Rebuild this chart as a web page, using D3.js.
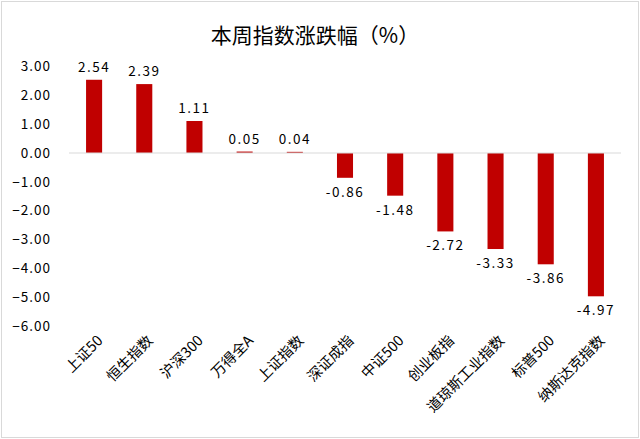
<!DOCTYPE html>
<html>
<head>
<meta charset="utf-8">
<script src="https://cdn.jsdelivr.net/npm/d3@7"></script>
<style>
  body { margin: 0; background: #fff; }
  svg text { font-family: "Noto Sans CJK SC", "Noto Sans", sans-serif; fill: #000; }
</style>
</head>
<body>
<div id="chart"></div>
<script>
const categories = ['上证50', '恒生指数', '沪深300', '万得全A', '上证指数', '深证成指',
  '中证500', '创业板指', '道琼斯工业指数', '标普500', '纳斯达克指数'];
const values = [2.54, 2.39, 1.11, 0.05, 0.04, -0.86, -1.48, -2.72, -3.33, -3.86, -4.97];
const yTicks = [3, 2, 1, 0, -1, -2, -3, -4, -5, -6];

const width = 640;
const height = 439;

const svg = d3.select('#chart')
  .append('svg')
  .attr('width', width)
  .attr('height', height);

// outer frame
svg.append('rect')
  .attr('x', 1.5).attr('y', 1.5)
  .attr('width', width - 3).attr('height', height - 3)
  .attr('fill', '#fff')
  .attr('stroke', '#d9d9d9')
  .attr('stroke-width', 1);

svg.append('text')
  .attr('x', 315)
  .attr('y', 43)
  .attr('text-anchor', 'middle')
  .style('font-size', '21px')
  .text('本周指数涨跌幅（%）');

const x = d3.scaleBand()
  .domain(categories)
  .range([69, 621])
  .paddingInner(0.68)
  .paddingOuter(0.34);

const y = d3.scaleLinear()
  .domain([-6, 3])
  .range([326, 66.5]);

// y axis labels only
const yAxis = d3.axisLeft(y)
  .tickValues(yTicks)
  .tickFormat(d3.format('.2f'))
  .tickSize(0)
  .tickPadding(0);

svg.append('g')
  .attr('class', 'axis yaxis')
  .attr('transform', 'translate(51,0)')
  .call(yAxis)
  .call(g => g.select('.domain').remove())
  .call(g => g.selectAll('text')
    .style('font-size', '13.5px')
    .style('letter-spacing', '1px')
    .attr('fill', '#000')
    .attr('font-family', '"Noto Sans CJK SC", sans-serif'));

// bars
svg.append('g')
  .attr('class', 'bars')
  .selectAll('rect')
  .data(values)
  .enter()
  .append('rect')
  .attr('x', (d, i) => x(categories[i]))
  .attr('y', d => y(Math.max(0, d)))
  .attr('width', x.bandwidth())
  .attr('height', d => Math.abs(y(d) - y(0)))
  .attr('fill', '#c00000');

// zero line
svg.append('line')
  .attr('x1', 69).attr('x2', 621)
  .attr('y1', y(0)).attr('y2', y(0))
  .attr('stroke', '#d9d9d9')
  .attr('stroke-width', 1);

// value labels
svg.append('g')
  .attr('class', 'labels')
  .selectAll('text')
  .data(values)
  .enter()
  .append('text')
  .attr('x', (d, i) => x(categories[i]) + x.bandwidth() / 2)
  .attr('y', d => d >= 0 ? y(d) - 8 : y(d) + 19)
  .attr('text-anchor', 'middle')
  .style('font-size', '13.5px')
  .style('letter-spacing', '1.5px')
  .text(d => d.toFixed(2));

// category labels, rotated
svg.append('g')
  .attr('class', 'axis xaxis')
  .selectAll('text')
  .data(categories)
  .enter()
  .append('text')
  .attr('transform', d => `translate(${x(d) + x.bandwidth() / 2 + 6},${338}) rotate(-45)`)
  .attr('text-anchor', 'end')
  .attr('dy', '0.35em')
  .style('font-size', '14.5px')
  .text(d => d);
</script>
</body>
</html>
